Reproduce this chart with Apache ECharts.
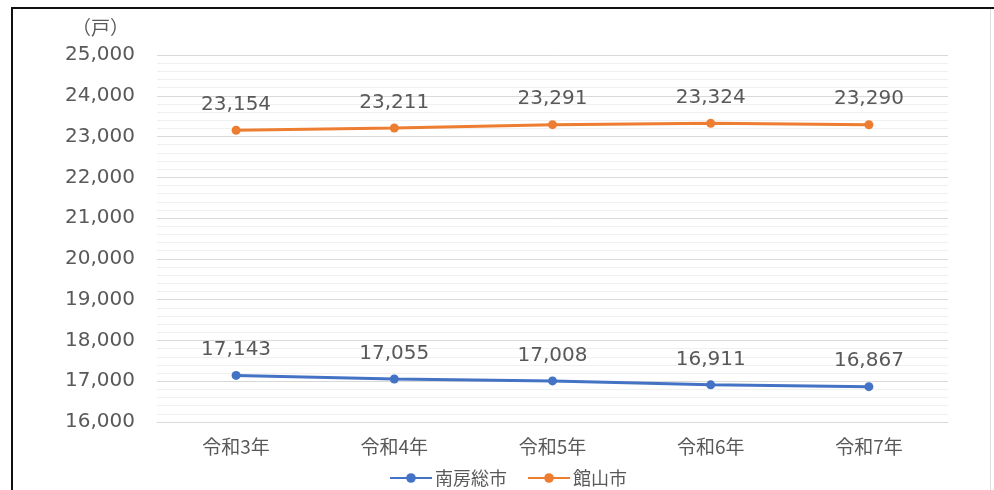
<!DOCTYPE html>
<html>
<head>
<meta charset="utf-8">
<script src="https://cdn.jsdelivr.net/npm/echarts@6/dist/echarts.min.js"></script>
<style>
html,body{margin:0;padding:0;background:#fff;}
#c{width:994px;height:490px;}
</style>
</head>
<body>
<div id="c"></div>
<script>
const categories = ['令和3年', '令和4年', '令和5年', '令和6年', '令和7年'];
const minamiboso = [17143, 17055, 17008, 16911, 16867];
const tateyama = [23154, 23211, 23291, 23324, 23290];
const seriesNames = ['南房総市', '館山市'];
const yMin = 16000, yMax = 25000, yInterval = 1000;

const cjk = '"Noto Sans CJK JP", "Noto Sans", sans-serif';
const num = '"DejaVu Sans", "Noto Sans", sans-serif';
const chart = echarts.init(document.getElementById('c'));
const labelCfg = {
  show: true, position: 'top', distance: 11,
  color: '#595959', fontSize: 20, fontFamily: num,
  formatter: p => p.value.toLocaleString('en-US')
};
chart.setOption({
  animation: false,
  backgroundColor: '#fff',
  graphic: [
    { type: 'line', shape: { x1: 11, y1: 8, x2: 994, y2: 8 }, style: { stroke: '#111', lineWidth: 2 } },
    { type: 'line', shape: { x1: 12, y1: 7, x2: 12, y2: 490 }, style: { stroke: '#111', lineWidth: 2 } },
    { type: 'line', shape: { x1: 990.5, y1: 9, x2: 990.5, y2: 490 }, style: { stroke: '#ddd', lineWidth: 1 } },
    { type: 'text', left: 72, top: 18, style: { text: '（戸）', fill: '#595959', font: '19px ' + cjk } }
  ],
  grid: { left: 157, right: 46, top: 55, bottom: 68 },
  legend: {
    top: 464, left: 384,
    itemWidth: 42, itemHeight: 12, itemGap: 20,
    textStyle: { color: '#595959', fontSize: 18, fontFamily: cjk, padding: [0, 0, 0, -2] },
    data: seriesNames
  },
  xAxis: {
    type: 'category', data: categories, boundaryGap: true,
    axisLine: { show: true, lineStyle: { color: '#d9d9d9', width: 1 } },
    axisTick: { show: false },
    axisLabel: { color: '#595959', fontSize: 19, fontFamily: cjk, margin: 15 }
  },
  yAxis: {
    type: 'value', min: yMin, max: yMax, interval: yInterval,
    axisLine: { show: false }, axisTick: { show: false },
    axisLabel: { color: '#595959', fontSize: 20, fontFamily: num, margin: 22,
      padding: [4, 0, 0, 0],
      formatter: v => v.toLocaleString('en-US') },
    splitLine: { lineStyle: { color: '#d9d9d9', width: 1 } },
    minorTick: { show: false, splitNumber: 5 },
    minorSplitLine: { show: true, lineStyle: { color: '#f0f0f0', width: 1 } }
  },
  series: [
    { name: seriesNames[0], type: 'line', data: minamiboso,
      symbol: 'circle', symbolSize: 9,
      itemStyle: { color: '#4472C4' }, lineStyle: { color: '#4472C4', width: 3 },
      label: labelCfg },
    { name: seriesNames[1], type: 'line', data: tateyama,
      symbol: 'circle', symbolSize: 9,
      itemStyle: { color: '#ED7D31' }, lineStyle: { color: '#ED7D31', width: 3 },
      label: labelCfg }
  ]
});
</script>
</body>
</html>
